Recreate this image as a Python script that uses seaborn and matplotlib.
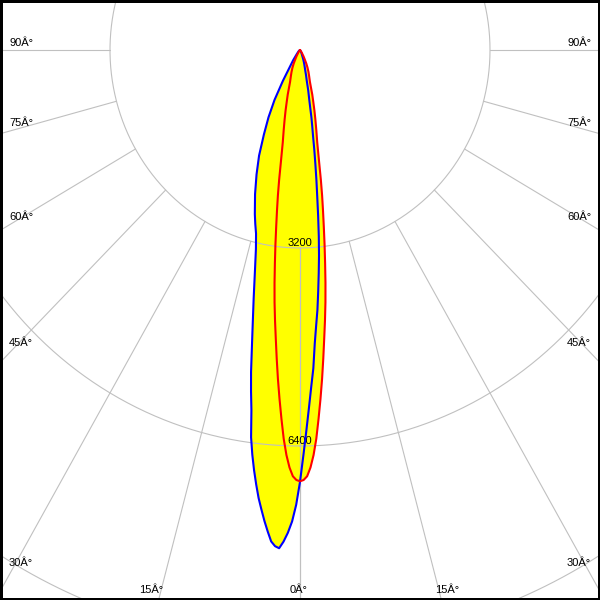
import numpy as np
import matplotlib
matplotlib.use("Agg")
import matplotlib.pyplot as plt
import seaborn as sns

# --- data: luminous intensity (cd) per gamma angle ---
gamma = [0, 0.5, 1, 1.5, 2, 2.5, 3, 3.5, 4, 4.5, 5, 5.5, 6, 6.5, 7, 7.5, 8,
         8.5, 9, 9.5, 10, 11, 12, 13, 14, 15, 16, 18, 20, 22, 24, 26, 28, 30,
         35, 40, 50, 60, 70, 80, 90]
c180 = [6980, 7350, 7620, 7805, 7950, 8060, 8030, 7957, 7800, 7635, 7455,
        7275, 7060, 6835, 6590, 6313, 5880, 5580, 5270, 4920, 4610,
        4090, 3650, 3300, 3060, 2910, 2760, 2450, 2140, 1840, 1495, 1210,
        915, 580, 200, 80, 30, 10, 0, 0, 0]
c0 = [6980, 6550, 6150, 5780, 5440, 5150, 4750, 4460, 4210, 3910, 3620,
      3340, 3030, 2700, 2380, 2116, 1860, 1630, 1400, 1250, 1110,
      815, 665, 500, 420, 340, 290, 220, 160, 100, 75, 55, 40, 30, 15, 10,
      0, 0, 0, 0, 0]
c90 = [6970, 6950, 6890, 6750, 6550, 6290, 5970, 5650, 5330, 5000, 4680,
       4390, 4100, 3790, 3470, 3170, 2880, 2620, 2380, 2130, 1875,
       1520, 1320, 1150, 1000, 860, 750, 540, 450, 380, 310, 240, 165, 120,
       50, 15, 0, 0, 0, 0, 0]

rings = [3200, 6400, 9600]
ring_labels = ["3200", "6400"]
spokes = [0, 15, 30, 45, 60, 75, 90]
side_labels = ["90Â°", "75Â°", "60Â°", "45Â°", "30Â°"]
bottom_labels = ["15Â°", "0Â°", "15Â°"]


def to_xy(left, right):
    """Left half-plane from 90 down to 0, right half-plane from 0 up to 90."""
    g = np.radians(gamma)
    left = np.asarray(left, float)
    right = np.asarray(right, float)
    x = np.concatenate([-left[::-1] * np.sin(g[::-1]), right * np.sin(g)])
    y = np.concatenate([-left[::-1] * np.cos(g[::-1]), -right * np.cos(g)])
    return x, y


sns.set_theme(style="white")
plt.rcParams['font.family'] = ['Liberation Sans', 'DejaVu Sans']

fig = plt.figure(figsize=(6, 6), dpi=100)
ax = fig.add_axes([0, 0, 1, 1])

bx, by = to_xy(c180, c0)
rx, ry = to_xy(c90, c90)

# yellow filled areas
ax.fill(bx, by, color="#ffff00", lw=0, zorder=1)
ax.fill(rx, ry, color="#ffff00", lw=0, zorder=1)

# grid: circles and spokes
t = np.linspace(0, 2 * np.pi, 721)
for r in rings:
    ax.plot(r * np.sin(t), -r * np.cos(t), color="#c0c0c0", lw=0.8, zorder=2)
for a in spokes:
    for s in (-1, 1):
        ar = np.radians(a)
        ax.plot([s * 3200 * np.sin(ar), s * 20000 * np.sin(ar)],
                [-3200 * np.cos(ar), -20000 * np.cos(ar)],
                color="#c0c0c0", lw=0.8, zorder=2)

for r, lab in zip(rings, ring_labels):
    ax.annotate(lab, (0, -r), xytext=(0, 1.2), textcoords="offset points",
                ha="center", va="baseline", fontsize=8, color="black", zorder=3)

# outlines
sns.lineplot(x=bx, y=by, sort=False, estimator=None, color="#0000ff",
             lw=1.5, ax=ax, zorder=4)
sns.lineplot(x=rx, y=ry, sort=False, estimator=None, color="#ff0000",
             lw=1.5, ax=ax, zorder=5)

# pixel scale: 300 px half width, apex 50 px below the top
ax.set_xlim(-300 / 0.059375, 300 / 0.059375)
ax.set_ylim(-550 / 0.061875, 50 / 0.061875)
ax.set_xticks([])
ax.set_yticks([])
ax.set_xlabel("")
ax.set_ylabel("")

# angle labels at the frame
side_y = [46, 126, 220, 346, 566]
for lab, yy in zip(side_labels, side_y):
    ax.text(9 / 600, 1 - yy / 600, lab, transform=ax.transAxes, ha="left",
            va="baseline", fontsize=8, color="black", zorder=6)
    ax.text(591 / 600, 1 - yy / 600, lab, transform=ax.transAxes, ha="right",
            va="baseline", fontsize=8, color="black", zorder=6)
for lab, xx in zip(bottom_labels, [151, 299, 447]):
    ax.text(xx / 600, 1 - 593 / 600, lab, transform=ax.transAxes, ha="center",
            va="baseline", fontsize=8, color="black", zorder=6)

for sp in ax.spines.values():
    sp.set_visible(True)
    sp.set_color("black")
    sp.set_linewidth(3.6)

fig.savefig("out.png", dpi=100)
